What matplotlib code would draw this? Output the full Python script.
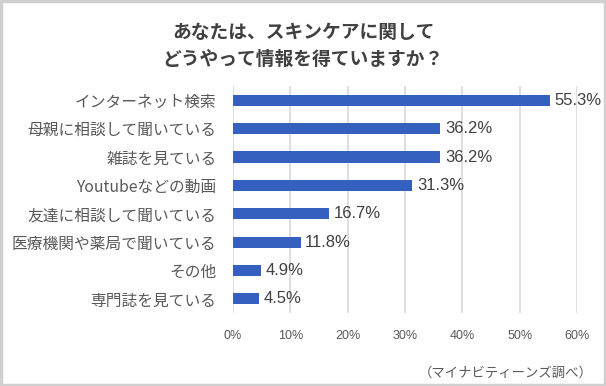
import matplotlib
matplotlib.use("Agg")
import matplotlib.pyplot as plt
from matplotlib.patches import Rectangle

plt.rcParams['font.family'] = ['Noto Sans CJK JP', 'DejaVu Sans']

# ==================== データ ====================
categories = ["インターネット検索", "母親に相談して聞いている", "雑誌を見ている",
              "Youtubeなどの動画", "友達に相談して聞いている",
              "医療機関や薬局で聞いている", "その他", "専門誌を見ている"]
values = [55.3, 36.2, 36.2, 31.3, 16.7, 11.8, 4.9, 4.5]
xticks = [0, 10, 20, 30, 40, 50, 60]

TITLE  = "あなたは、スキンケアに関して\nどうやって情報を得ていますか？"
SOURCE = "（マイナビティーンズ調べ）"

BAR_COLOR   = "#3560c0"
LABEL_COLOR = "#595959"
TEXT_COLOR  = "#404040"

# ==================== 描画 ====================
fig = plt.figure(figsize=(6.06, 3.86), dpi=100)
ax = fig.add_axes([0.3845, 0.189, 0.5675, 0.588])

y = list(range(len(categories)))
ax.barh(y, values, height=0.39, color=BAR_COLOR, zorder=3)
for yi, v in zip(y, values):
    ax.text(v + 0.8, yi, f"{v}%", va="center", ha="left",
            fontsize=12, color=TEXT_COLOR, family="Liberation Sans", zorder=4)

ax.set_ylim(len(categories) - 0.5, -0.5)
ax.set_xlim(0, 60)
ax.set_yticks(y)
ax.set_yticklabels(categories, fontsize=11.3, color=LABEL_COLOR)
ax.set_xticks(xticks)
ax.set_xticklabels([f"{t}%" for t in xticks], fontsize=9, color=LABEL_COLOR,
                   family="Liberation Sans")
ax.tick_params(axis="y", length=0, pad=12)
ax.tick_params(axis="x", length=0, pad=12)
ax.grid(axis="x", color="#d9d9d9", linewidth=1.2, zorder=0)
for s in ax.spines.values():
    s.set_visible(False)

fig.text(0.5, 0.88, TITLE, ha="center", va="center", fontsize=13.5,
         fontweight="bold", color=TEXT_COLOR, linespacing=1.55)
fig.text(0.978, 0.035, SOURCE, ha="right", va="center", fontsize=9.6,
         color=LABEL_COLOR)

# 外枠
fig.patches.append(Rectangle((0.002, 0.003), 0.996, 0.994, transform=fig.transFigure,
                             fill=False, edgecolor="#d0d0d0", linewidth=2.5))

fig.savefig("out.png", dpi=100)
